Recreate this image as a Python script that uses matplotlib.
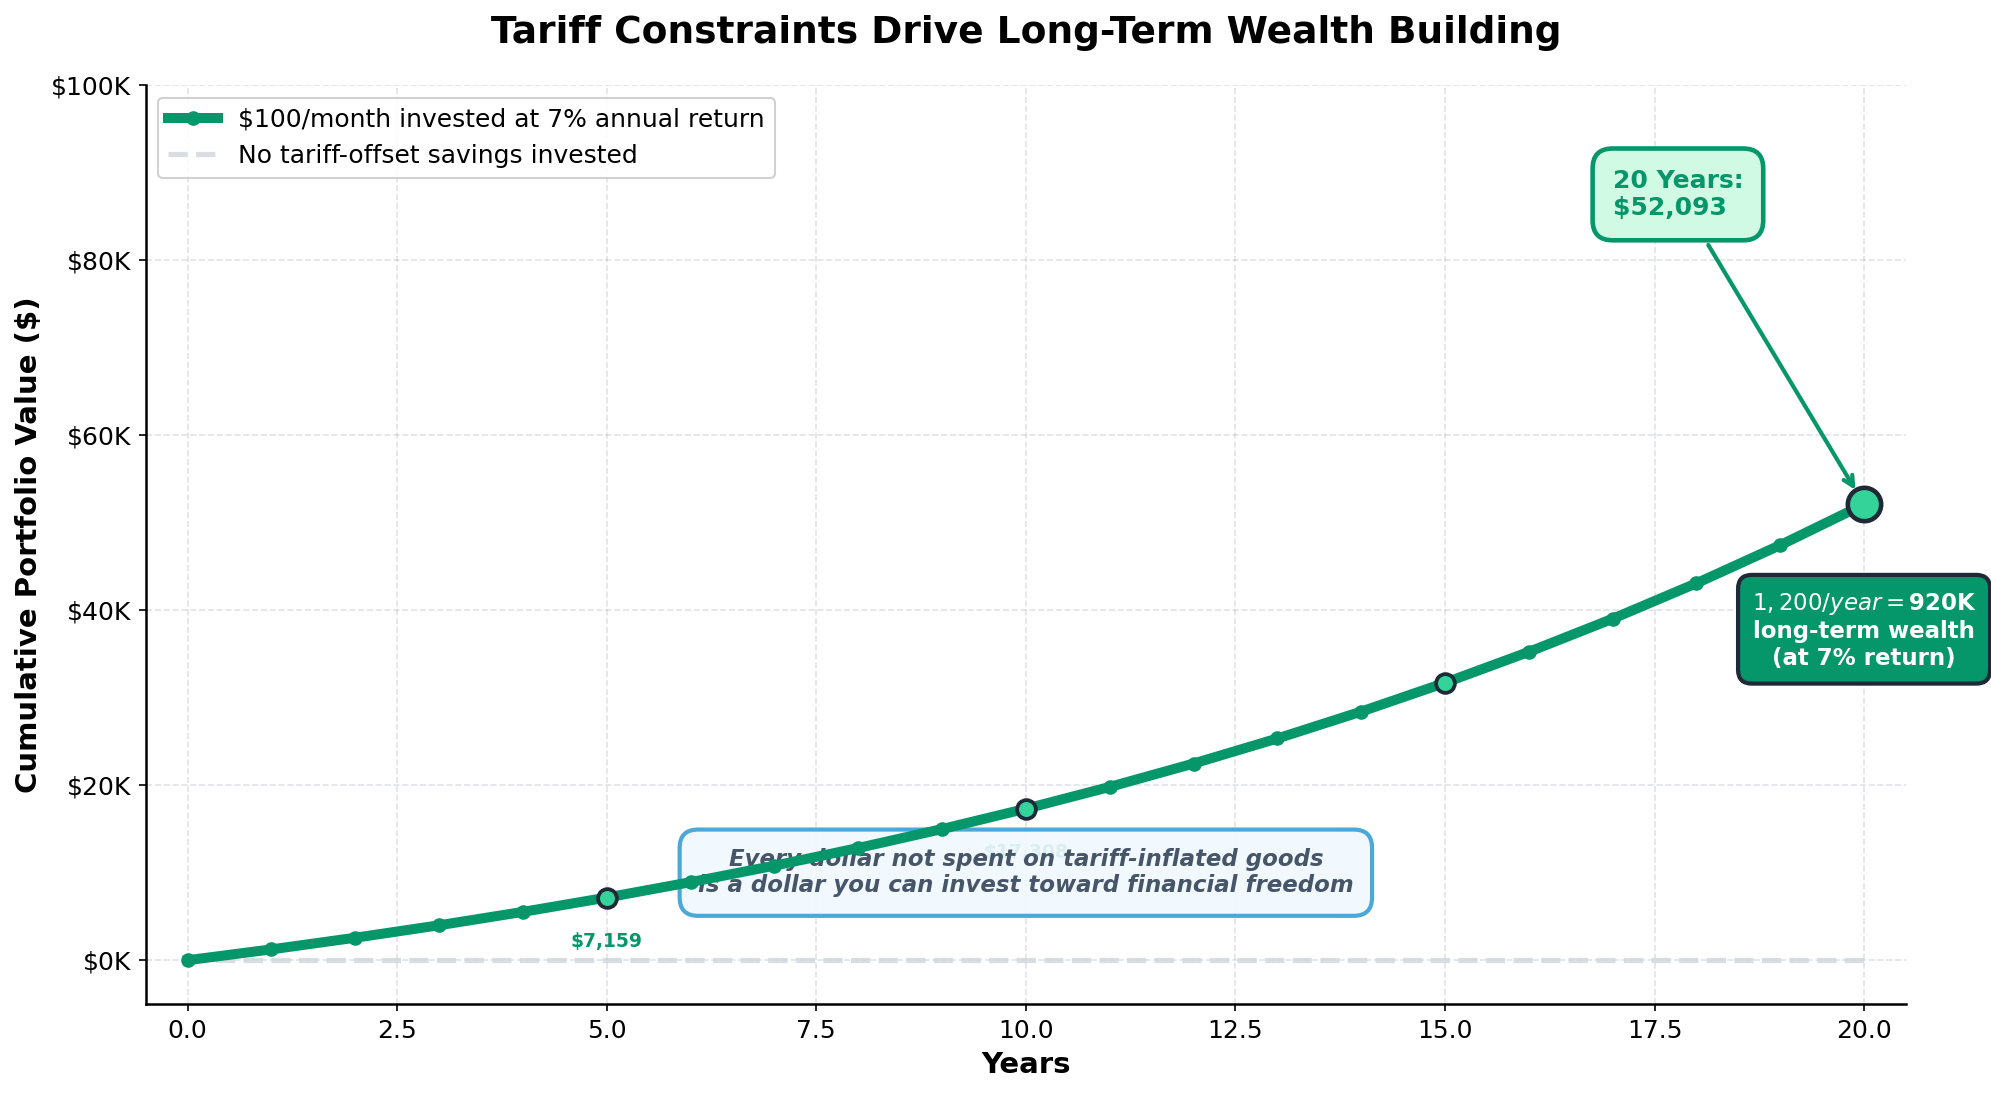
import numpy as np
import matplotlib.pyplot as plt

# portfolio value at end of each year ($100/month, 7% annual)
years = list(range(0, 21))
portfolio = [0, 1239, 2568, 3993, 5521, 7159, 8916, 10800, 12820, 14986,
             17308, 19799, 22470, 25333, 28404, 31696, 35227, 39013, 43072,
             47425, 52093]
baseline = [0] * len(years)

milestone_years = [5, 10, 15]
labelled_years = [5, 10]
final_year = 20
final_value = 52093

yticks = [0, 20000, 40000, 60000, 80000, 100000]
ytick_labels = ["$0K", "$20K", "$40K", "$60K", "$80K", "$100K"]

green = "#059669"
light_green = "#34d399"
dark = "#1f2937"

fig = plt.figure(figsize=(1991 / 150, 1094 / 150), dpi=150)
ax = fig.add_axes([0.0732, 0.0823, 0.8841, 0.84])

ax.plot(years, portfolio, "o-", color=green, lw=4.8, markersize=6,
        label="$100/month invested at 7% annual return", zorder=5)
ax.plot(years, baseline, "--", color="#d1d5db", lw=2.5, alpha=0.8,
        label="No tariff-offset savings invested", zorder=2)

# milestone markers
for yr in milestone_years:
    ax.plot(yr, portfolio[yr], "o", markersize=9, markerfacecolor=light_green,
            markeredgecolor=dark, markeredgewidth=1.8, zorder=6)
for yr in labelled_years:
    ax.annotate("${:,}".format(portfolio[yr]), xy=(yr, portfolio[yr]),
                xytext=(0, -21), textcoords="offset points", ha="center",
                va="center", fontsize=9, fontweight="bold", color=green)

ax.plot(final_year, final_value, "o", markersize=16, markerfacecolor=light_green,
        markeredgecolor=dark, markeredgewidth=2.2, zorder=7)

ax.annotate("20 Years:\n${:,}".format(final_value), xy=(final_year, final_value),
            xytext=(17.0, 87500), ha="left", va="center", fontsize=12,
            fontweight="bold", color=green,
            bbox=dict(boxstyle="round,pad=0.8", facecolor="#d1fae5",
                      edgecolor=green, linewidth=2.2),
            arrowprops=dict(arrowstyle="->", color=green, lw=2, shrinkB=8),
            zorder=8)

ax.text(final_year, 37700, "$1,200/year = $920K\nlong-term wealth\n(at 7% return)",
        ha="center", va="center", fontsize=11, fontweight="bold", color="white",
        bbox=dict(boxstyle="round,pad=0.6", facecolor=green, edgecolor=dark,
                  linewidth=2), zorder=8)

ax.text(10, 10000, "Every dollar not spent on tariff-inflated goods\n"
        "is a dollar you can invest toward financial freedom",
        ha="center", va="center", fontsize=11, fontweight="bold", style="italic",
        color="#475569",
        bbox=dict(boxstyle="round,pad=0.8", facecolor="#f0f9ff", edgecolor="#3a9fd4",
                  linewidth=2, alpha=0.9), zorder=4)

ax.set_xlim(-0.5, 20.5)
ax.set_ylim(-5000, 100000)
ax.set_yticks(yticks)
ax.set_yticklabels(ytick_labels)
ax.tick_params(labelsize=12)
ax.grid(True, linestyle="--", alpha=0.3, color="#9ca3af")
ax.set_axisbelow(True)
for side in ["top", "right"]:
    ax.spines[side].set_visible(False)
for side in ["left", "bottom"]:
    ax.spines[side].set_linewidth(1.2)

ax.set_xlabel("Years", fontsize=14, fontweight="bold")
ax.set_ylabel("Cumulative Portfolio Value ($)", fontsize=14, fontweight="bold")
ax.set_title("Tariff Constraints Drive Long-Term Wealth Building", fontsize=18,
             fontweight="bold", pad=20)
ax.legend(loc="upper left", fontsize=12, framealpha=0.9)

fig.savefig("out.png", dpi=150)
